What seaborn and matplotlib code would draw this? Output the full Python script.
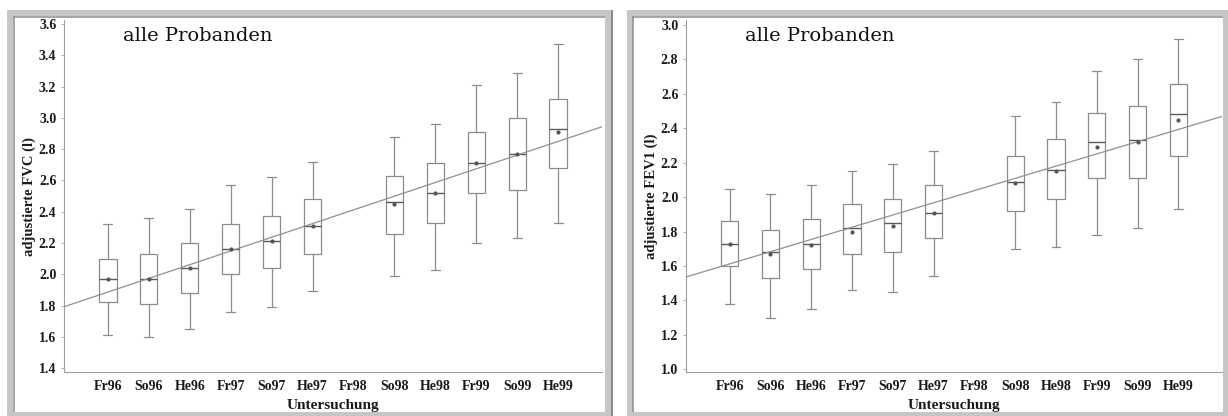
import numpy as np
import pandas as pd
import matplotlib
matplotlib.use("Agg")
import matplotlib.pyplot as plt
from matplotlib.lines import Line2D
import seaborn as sns

# ---------------- data ----------------
categories = ["Fr96", "So96", "He96", "Fr97", "So97", "He97",
              "Fr98", "So98", "He98", "Fr99", "So99", "He99"]

# FVC (left panel); None = no examination
fvc_whislo = [1.61, 1.60, 1.65, 1.76, 1.79, 1.89, None, 1.99, 2.03, 2.20, 2.23, 2.33]
fvc_q1     = [1.82, 1.81, 1.88, 2.00, 2.04, 2.13, None, 2.26, 2.33, 2.52, 2.54, 2.68]
fvc_median = [1.97, 1.97, 2.04, 2.16, 2.21, 2.31, None, 2.46, 2.52, 2.71, 2.77, 2.93]
fvc_q3     = [2.10, 2.13, 2.20, 2.32, 2.37, 2.48, None, 2.63, 2.71, 2.91, 3.00, 3.12]
fvc_whishi = [2.32, 2.36, 2.42, 2.57, 2.62, 2.72, None, 2.88, 2.96, 3.21, 3.29, 3.47]
fvc_mean   = [1.97, 1.97, 2.04, 2.16, 2.21, 2.31, None, 2.45, 2.52, 2.71, 2.77, 2.91]
fvc_trend_intercept = 1.886
fvc_trend_slope = 0.0876

# FEV1 (right panel)
fev_whislo = [1.38, 1.30, 1.35, 1.46, 1.45, 1.54, None, 1.70, 1.71, 1.78, 1.82, 1.93]
fev_q1     = [1.60, 1.53, 1.58, 1.67, 1.68, 1.76, None, 1.92, 1.99, 2.11, 2.11, 2.24]
fev_median = [1.73, 1.68, 1.73, 1.82, 1.85, 1.91, None, 2.09, 2.16, 2.32, 2.33, 2.48]
fev_q3     = [1.86, 1.81, 1.87, 1.96, 1.99, 2.07, None, 2.24, 2.34, 2.49, 2.53, 2.66]
fev_whishi = [2.05, 2.02, 2.07, 2.15, 2.19, 2.27, None, 2.47, 2.55, 2.73, 2.80, 2.92]
fev_mean   = [1.73, 1.67, 1.72, 1.80, 1.83, 1.91, None, 2.08, 2.15, 2.29, 2.32, 2.45]
fev_trend_intercept = 1.612
fev_trend_slope = 0.0710

title_text = "alle Probanden"
xlabel_text = "Untersuchung"
ylabels = ["adjustierte FVC (l)", "adjustierte FEV1 (l)"]
yticks_fvc = [1.4, 1.6, 1.8, 2.0, 2.2, 2.4, 2.6, 2.8, 3.0, 3.2, 3.4, 3.6]
yticks_fev = [1.0, 1.2, 1.4, 1.6, 1.8, 2.0, 2.2, 2.4, 2.6, 2.8, 3.0]


def five_point_frame(lo, q1, med, q3, hi):
    rows = []
    for cat, a, b, c, d, e in zip(categories, lo, q1, med, q3, hi):
        if a is None:
            continue
        for v in (a, b, c, d, e):
            rows.append({"Untersuchung": cat, "value": v})
    return pd.DataFrame(rows)


# ---------------- style ----------------
sns.set_theme(style="white")
plt.rcParams["font.family"] = ["Liberation Serif", "DejaVu Serif"]

W, H = 1228, 416
fig = plt.figure(figsize=(W / 100, H / 100), dpi=100)
fig.patch.set_facecolor("white")

edge = "#8c8c8c"
panels = [
    dict(rect=[64 / W, 1 - 372 / H, (602 - 64) / W, (372 - 20) / H],
         data=(fvc_whislo, fvc_q1, fvc_median, fvc_q3, fvc_whishi), mean=fvc_mean,
         trend=(fvc_trend_intercept, fvc_trend_slope), ylim=(1.375, 3.626),
         yticks=yticks_fvc, ylabel=ylabels[0]),
    dict(rect=[686 / W, 1 - 372 / H, (1222 - 686) / W, (372 - 20) / H],
         data=(fev_whislo, fev_q1, fev_median, fev_q3, fev_whishi), mean=fev_mean,
         trend=(fev_trend_intercept, fev_trend_slope), ylim=(0.984, 3.029),
         yticks=yticks_fev, ylabel=ylabels[1]),
]

xlim = (-1.07, 12.07)
for p in panels:
    ax = fig.add_axes(p["rect"])
    df = five_point_frame(*p["data"])
    sns.boxplot(data=df, x="Untersuchung", y="value", order=categories,
                whis=(0, 100), width=0.425, color="white", linecolor=edge,
                linewidth=0.9, ax=ax,
                medianprops=dict(color="#5a5a5a", linewidth=1.0))
    means = pd.DataFrame({"Untersuchung": categories,
                          "value": [np.nan if m is None else m for m in p["mean"]]})
    sns.stripplot(data=means.dropna(), x="Untersuchung", y="value", order=categories,
                  jitter=False, color="#555555", size=3.0, marker="o",
                  linewidth=0, ax=ax, zorder=5)
    b0, b1 = p["trend"]
    xs = np.array(xlim)
    ax.plot(xs, b0 + b1 * xs, color="#909090", linewidth=0.9, zorder=4)

    ax.set_xlim(*xlim)
    ax.set_ylim(*p["ylim"])
    ax.set_yticks(p["yticks"])
    ax.set_yticklabels([f"{t:.1f}" for t in p["yticks"]])
    ax.set_xticks(range(len(categories)))
    ax.set_xticklabels(categories)
    for lab in ax.get_xticklabels() + ax.get_yticklabels():
        lab.set_fontweight("bold")
        lab.set_fontsize(10)
        lab.set_color("#1a1a1a")
    ax.tick_params(axis="y", length=2.5, width=0.6, color="#a0a0a0", pad=3, left=True)
    ax.tick_params(axis="x", length=0, pad=6)
    for s in ["top", "right"]:
        ax.spines[s].set_visible(False)
    for s in ["left", "bottom"]:
        ax.spines[s].set_color("#a0a0a0")
        ax.spines[s].set_linewidth(0.8)
    ax.set_xlabel(xlabel_text, fontsize=11, fontweight="bold", labelpad=4,
                  color="#1a1a1a")
    ax.set_ylabel(p["ylabel"], fontsize=10.5, fontweight="bold", labelpad=2,
                  color="#1a1a1a")
    ax.text(0.11, 0.955, title_text, transform=ax.transAxes, fontsize=14,
            family="DejaVu Serif", va="center", ha="left", color="#111111")
    ax.set_facecolor("white")


# ---------------- bevel frames ----------------
def px_line(x0, y0, x1, y1, color, lw_px):
    fig.add_artist(Line2D([x0 / W, x1 / W], [1 - y0 / H, 1 - y1 / H],
                          transform=fig.transFigure, color=color,
                          linewidth=lw_px * 0.72, solid_capstyle="butt"))


light, dark = "#c6c6c6", "#8a8a8a"
for (x0, x1) in [(7, 613), (627, 1231)]:
    y0, y1 = 10, 420
    # light outer band
    px_line(x0, y0 + 3, x1, y0 + 3, light, 6)
    px_line(x0 + 3, y0, x0 + 3, y1, light, 6)
    px_line(x1 - 5, y0, x1 - 5, y1, light, 6)
    px_line(x0, y1 - 5, x1, y1 - 5, light, 6)
    # dark inner edge top/left, outer edge right
    px_line(x0 + 6, y0 + 6.5, x1 - 8, y0 + 6.5, dark, 1.5)
    px_line(x0 + 6.5, y0 + 6, x0 + 6.5, y1 - 8, dark, 1.5)
    px_line(x1 - 1.5, y0, x1 - 1.5, y1, dark, 2)

fig.savefig("out.png", dpi=100, facecolor="white")
